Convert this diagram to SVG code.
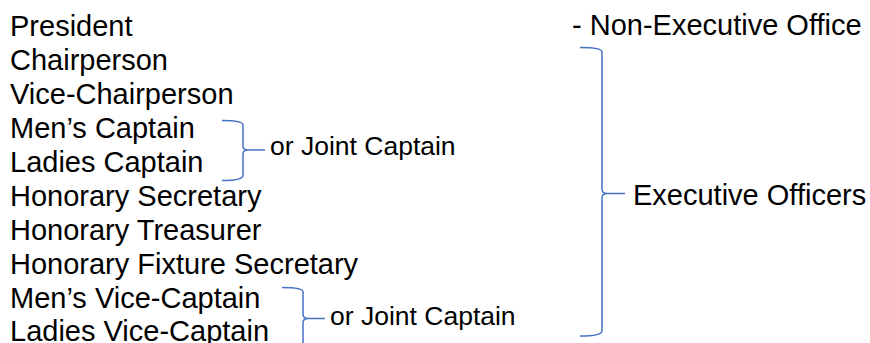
<svg xmlns="http://www.w3.org/2000/svg" width="870" height="343" viewBox="0 0 870 343">
<style>
text{font-family:"Liberation Sans",Arial,sans-serif;fill:#000}
.t{font-size:29px}
.s{font-size:26.5px}
.b{fill:none;stroke:#4472C4;stroke-width:1.5}
</style>
<rect width="870" height="343" fill="#fff"/>
<g id="roles">
<text class="t" x="10" y="36">President</text>
<text class="t" x="10" y="70">Chairperson</text>
<text class="t" x="10" y="104">Vice-Chairperson</text>
<text class="t" x="10" y="138">Men’s Captain</text>
<text class="t" x="10" y="172">Ladies Captain</text>
<text class="t" x="10" y="206">Honorary Secretary</text>
<text class="t" x="10" y="240">Honorary Treasurer</text>
<text class="t" x="10" y="274">Honorary Fixture Secretary</text>
<text class="t" x="10" y="308">Men’s Vice-Captain</text>
<text class="t" x="10" y="341">Ladies Vice-Captain</text>
</g>
<g id="non-exec">
<text class="t" x="572" y="35">- Non-Executive Office</text>
</g>
<g id="connectors">
<path class="b" d="M222,120.5 Q243,120.5 243,125 V146 Q243,150 248,150 H265 M248,150 Q243,150 243,154 V175.5 Q243,180.5 222,180.5"/>
<path class="b" d="M282,287.5 Q303,287.5 303,292 V314 Q303,318.5 308,318.5 H325 M308,318.5 Q303,318.5 303,323 V345 Q303,349.5 282,349.5"/>
<path class="b" d="M580,47.5 Q602,47.5 602,52 V189 Q602,193.5 607,193.5 H625 M607,193.5 Q602,193.5 602,198 V331 Q602,336 580,336"/>
</g>
<g id="joint1"><text class="s" x="270" y="155">or Joint Captain</text></g>
<g id="joint2"><text class="s" x="330" y="325">or Joint Captain</text></g>
<g id="exec"><text class="t" x="633" y="205">Executive Officers</text></g>
</svg>
